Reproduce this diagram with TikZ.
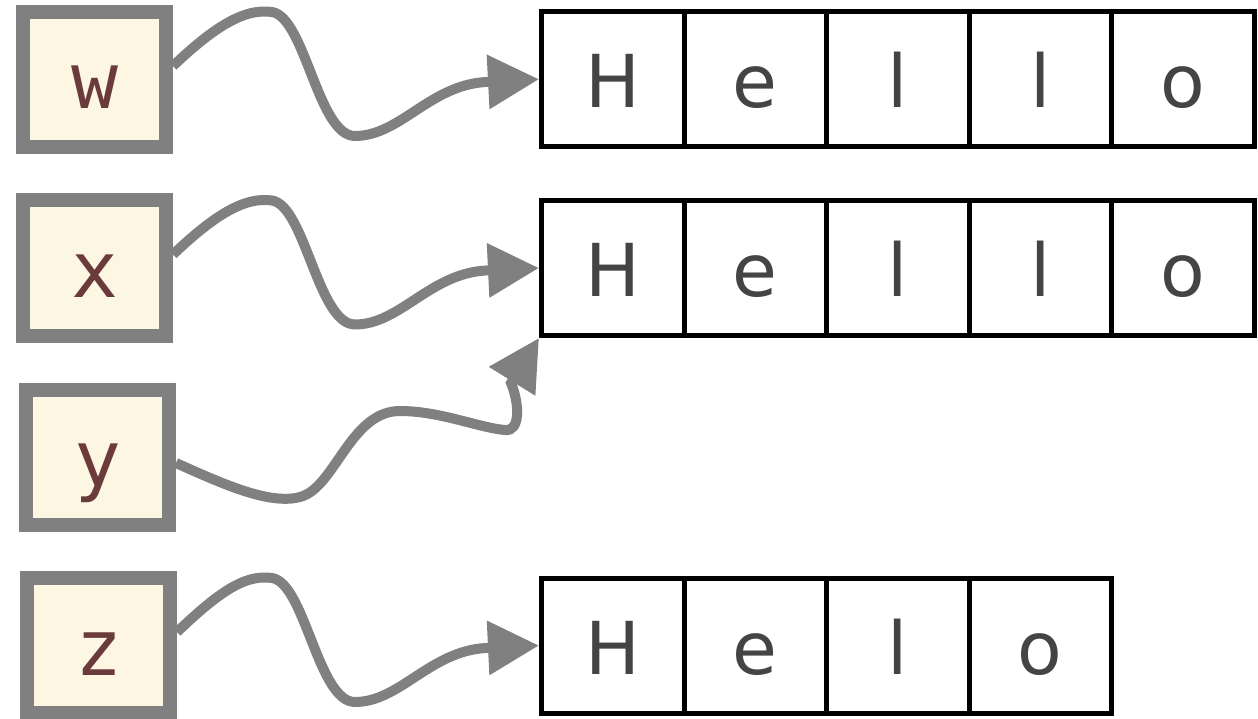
\documentclass[tikz,border=0pt]{standalone}
\usepackage{fontspec}
\usetikzlibrary{arrows.meta}
\newfontfamily\cellfont{DejaVu Sans}
\newfontfamily\varfont{DejaVu Sans Mono}
\definecolor{vgray}{HTML}{808080}
\definecolor{vfill}{HTML}{FDF6E3}
\definecolor{vtext}{HTML}{6B3B3B}
\definecolor{ctext}{HTML}{444444}
\begin{document}
\begin{tikzpicture}[x=1pt,y=-1pt,
  varbox/.style={draw=vgray, fill=vfill, line width=14pt, minimum width=143pt, minimum height=135pt,
    inner sep=0pt, text height=59pt, text depth=0pt, font=\varfont\fontsize{78pt}{78pt}\selectfont, text=vtext},
  cell/.style={draw=black, line width=5pt, minimum width=142.5pt, minimum height=135pt,
    inner sep=0pt, text height=57.5pt, text depth=0pt, font=\cellfont\fontsize{73pt}{73pt}\selectfont, text=ctext},
  conn/.style={draw=vgray, line width=10pt, -{Triangle[length=51pt,width=52pt]}}]
\useasboundingbox (0,0) rectangle (1258,719);

\node[varbox] (w) at (94.5,79.5) {w};
\node[varbox] (x) at (94.5,268) {x};
\node[varbox] (y) at (97.5,457) {y};
\node[varbox] (z) at (98.5,645.5) {z};

\foreach \c [count=\i] in {H,e,l,l,o}
  \node[cell] (a\i) at (470.25+142.5*\i, 79.25) {\c};
\foreach \c [count=\i] in {H,e,l,l,o}
  \node[cell] (b\i) at (470.25+142.5*\i, 268) {\c};
\foreach \c [count=\i] in {H,e,l,o}
  \node[cell] (c\i) at (470.25+142.5*\i, 645.5) {\c};

\draw[conn] ([yshift=13.5pt]w.east) .. controls (215,26) and (245,8) .. (272,12)
  .. controls (305,17) and (318,136) .. (355,136)
  .. controls (400,136) and (430,85) .. (486,82) -- (a1.west);
\draw[conn] ([yshift=13.5pt]x.east) .. controls (215,214.5) and (245,196.5) .. (272,200.5)
  .. controls (305,205.5) and (318,324.5) .. (355,324.5)
  .. controls (400,324.5) and (430,273.5) .. (486,270.5) -- (b1.west);
\draw[conn] ([yshift=-6pt]y.east) .. controls (225,485) and (270,505) .. (300,497)
  .. controls (335,488) and (350,411) .. (400,411)
  .. controls (440,411) and (480,428) .. (505,430)
  .. controls (520,432) and (520,405) .. (511,383) -- (b1.south west);
\draw[conn] ([yshift=13.5pt]z.east) .. controls (219,592) and (245,574) .. (272,578)
  .. controls (305,583) and (318,702) .. (355,702)
  .. controls (400,702) and (430,651) .. (486,648) -- (c1.west);
\end{tikzpicture}
\end{document}
